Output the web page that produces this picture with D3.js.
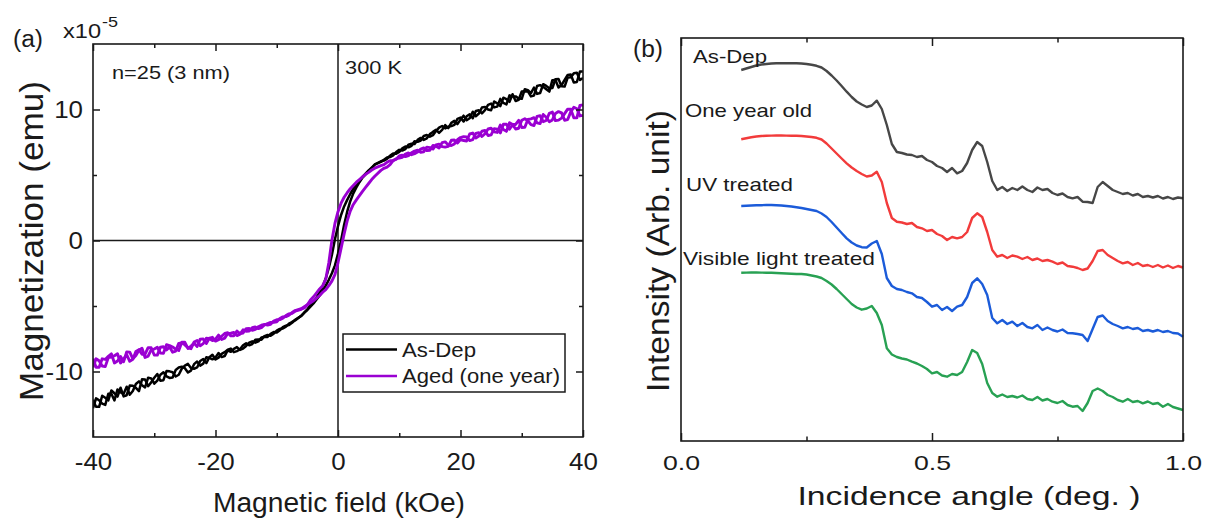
<!DOCTYPE html>
<html><head><meta charset="utf-8">
<script src="https://cdn.jsdelivr.net/npm/d3@7"></script>
<style>body{margin:0;background:#fff}svg{display:block}</style>
</head><body><svg id="c" width="1209" height="522"></svg>
<script>
// ---------- Panel (a) data : magnetization (x1e-5 emu) vs field (kOe) ----------
const fieldGrid = [-40,-39.5,-39,-38.5,-38,-37.5,-37,-36.5,-36,-35.5,-35,-34.5,-34,-33.5,-33,-32.5,-32,-31.5,-31,-30.5,-30,-29.5,-29,-28.5,-28,-27.5,-27,-26.5,-26,-25.5,-25,-24.5,-24,-23.5,-23,-22.5,-22,-21.5,-21,-20.5,-20,-19.5,-19,-18.5,-18,-17.5,-17,-16.5,-16,-15.5,-15,-14.5,-14,-13.5,-13,-12.5,-12,-11.5,-11,-10.5,-10,-9.5,-9,-8.5,-8,-7.5,-7,
 -6,-5.5,-5,-4.5,-4,-3.5,-3,-2.5,-2,-1.5,-1,-0.5,0,0.5,1,1.5,2,2.5,3,3.5,4,4.5,5,5.5,6,
 7,7.5,8,8.5,9,9.5,10,10.5,11,11.5,12,12.5,13,13.5,14,14.5,15,15.5,16,16.5,17,17.5,18,18.5,19,19.5,20,20.5,21,21.5,22,22.5,23,23.5,24,24.5,25,25.5,26,26.5,27,27.5,28,28.5,29,29.5,30,30.5,31,31.5,32,32.5,33,33.5,34,34.5,35,35.5,36,36.5,37,37.5,38,38.5,39,39.5,40];
const asDepUp = [-12.15,-12.7,-12.7,-11.85,-12.0,-12.2,-11.45,-11.66,-11.92,-11.24,-11.9,-11.81,-11.07,-11.09,-11.25,-11.5,-10.6,-10.61,-11.12,-10.83,-10.48,-10.19,-10.7,-10.66,-9.97,-9.99,-10.06,-10.38,-10.25,-9.78,-9.55,-9.42,-9.73,-9.79,-9.69,-9.2,-9.05,-9.36,-8.91,-8.72,-9.08,-8.94,-8.65,-8.52,-8.33,-8.25,-8.52,-8.44,-8.3,-8.0,-7.85,-8.0,-7.9,-7.58,-7.55,-7.58,-7.3,-7.21,-7.27,-7.11,-6.88,-6.75,-6.72,-6.58,-6.35,-6.22,-6.1,
 -5.75,-5.5,-5.3,-5.05,-4.8,-4.5,-4.2,-3.85,-3.45,-3.0,-2.5,-1.9,-1.0,0.0,1.2,2.2,3.0,3.6,4.05,4.45,4.8,5.05,5.3,5.55,5.8,
 6.0,6.17,6.33,6.37,6.5,6.75,6.92,6.87,6.98,7.31,7.38,7.36,7.68,7.83,7.68,7.8,8.12,8.29,8.45,8.22,8.44,8.81,8.58,8.98,9.13,8.88,9.23,9.53,9.18,9.33,9.83,9.49,9.69,10.15,10.2,10.0,9.95,10.61,10.47,10.26,10.9,10.79,10.58,11.17,10.65,10.74,11.37,11.4,11.38,11.0,11.07,11.79,11.86,11.73,11.55,11.37,12.24,12.26,11.68,11.87,12.25,12.64,12.67,12.06,12.1,12.9,12.9];
const asDepDown = [-12.8,-12.05,-12.2,-12.45,-12.55,-11.7,-11.7,-12.21,-11.37,-11.59,-11.7,-11.16,-11.77,-11.49,-10.95,-10.75,-11.05,-11.21,-10.47,-10.53,-10.93,-10.69,-10.25,-10.06,-10.37,-10.49,-10.46,-9.88,-9.7,-9.63,-9.75,-10.07,-9.93,-9.44,-9.24,-9.55,-9.4,-8.91,-8.96,-9.07,-8.93,-8.59,-8.9,-8.82,-8.38,-8.5,-8.27,-8.14,-8.35,-8.25,-8.05,-7.8,-7.7,-7.8,-7.7,-7.4,-7.35,-7.36,-7.12,-6.99,-7.03,-6.85,-6.62,-6.5,-6.45,-6.28,-6.05,
 -5.75,-5.5,-5.25,-4.95,-4.7,-4.35,-3.95,-3.5,-2.9,-2.1,-1.1,0.1,1.1,1.95,2.6,3.1,3.55,3.95,4.3,4.6,4.85,5.1,5.35,5.55,5.8,
 6.05,6.1,6.23,6.47,6.65,6.63,6.77,7.03,7.18,7.11,7.23,7.58,7.53,7.63,7.98,8.05,7.92,8.04,8.35,8.62,8.74,8.56,8.68,8.73,8.83,9.28,9.38,9.08,9.48,9.63,9.33,9.89,9.94,9.7,9.95,10.35,10.45,10.16,10.22,10.81,10.5,10.39,11.08,11.02,11.0,10.84,10.82,11.55,11.48,11.25,11.67,11.19,11.26,11.93,11.8,11.62,11.64,12.31,12.33,11.77,11.75,12.44,12.47,12.76,12.8,12.25,12.4];
const agedUp = [-9.68,-9.03,-9.18,-9.58,-9.63,-8.94,-8.9,-8.8,-8.65,-9.35,-9.05,-8.71,-9.22,-9.07,-8.47,-8.33,-8.68,-8.68,-8.18,-8.19,-8.74,-8.75,-8.15,-8.11,-8.36,-8.12,-8.53,-8.44,-7.85,-7.81,-7.97,-8.19,-8.26,-7.75,-7.64,-8.03,-7.87,-7.46,-7.5,-7.64,-7.53,-7.22,-7.56,-7.45,-7.09,-7.08,-7.02,-7.26,-7.15,-6.82,-6.93,-6.92,-6.66,-6.6,-6.73,-6.65,-6.45,-6.34,-6.25,-6.25,-6.2,-5.95,-5.83,-5.81,-5.7,-5.5,-5.35,
 -5.2,-5.05,-4.9,-4.75,-4.6,-4.4,-4.2,-3.95,-3.75,-3.45,-3.1,-2.6,-1.7,-0.6,0.5,1.5,2.25,2.75,3.1,3.42,3.75,4.05,4.35,4.65,4.9,
 5.35,5.51,5.6,5.79,6.1,6.23,6.3,6.35,6.6,6.68,6.55,6.63,6.75,6.98,7.07,6.86,6.89,7.25,7.2,7.06,7.47,7.53,7.28,7.25,7.37,7.69,7.86,7.93,7.9,7.63,7.7,8.17,8.23,7.94,8.15,8.51,8.57,8.29,8.25,8.81,8.47,8.33,8.99,8.85,8.86,9.17,8.63,8.64,9.24,9.29,9.38,8.98,8.92,9.62,9.41,9.06,9.2,9.7,9.84,9.74,9.18,9.23,9.82,10.17,10.06,9.51,9.55];
const agedDown = [-9.03,-9.68,-9.68,-9.03,-9.08,-8.84,-8.65,-9.35,-9.2,-8.85,-9.25,-8.51,-8.52,-9.02,-8.77,-8.38,-8.23,-8.93,-8.83,-8.34,-8.29,-8.15,-8.6,-8.61,-7.96,-8.02,-8.13,-8.29,-8.4,-7.76,-7.77,-8.24,-8.06,-7.85,-8.09,-7.53,-7.52,-7.86,-7.45,-7.39,-7.68,-7.57,-7.31,-7.1,-7.04,-7.28,-7.27,-6.91,-7.1,-7.06,-6.73,-6.72,-6.86,-6.78,-6.58,-6.47,-6.4,-6.46,-6.4,-6.15,-6.05,-6.04,-5.93,-5.73,-5.6,-5.56,-5.4,
 -5.25,-5.15,-4.9,-4.55,-4.3,-4.0,-3.7,-3.45,-2.95,-1.7,0.0,1.3,2.2,2.85,3.3,3.65,3.95,4.2,4.45,4.65,4.85,5.05,5.2,5.38,5.52,
 5.72,5.79,5.97,6.09,6.1,6.2,6.45,6.51,6.4,6.48,6.7,6.83,6.9,6.74,6.77,7.13,7.09,6.98,7.3,7.36,7.17,7.13,7.18,7.65,7.67,7.44,7.71,7.63,7.6,8.13,8.2,7.82,7.98,8.34,8.4,8.01,8.07,8.54,8.5,8.21,8.87,8.88,8.49,8.85,8.51,8.57,9.18,9.29,9.14,8.84,8.78,9.48,9.52,9.07,9.16,9.71,9.8,9.15,9.19,9.34,9.68,10.03,10.02,9.37,9.36,10.31,10.35];
const fieldTicks = [-40,-20,0,20,40];
const fieldMinorTicks = [-30,-10,10,30];
const momentTicks = [-10,0,10];
const momentMinorTicks = [-5,5];
const legendNames = ["As-Dep","Aged (one year)"];

// ---------- Panel (b) data : reflectivity (arb., offset) vs incidence angle ----------
const angleGrid = [0.12,0.13,0.14,0.15,0.16,0.17,0.18,0.19,0.20,
 0.21,0.22,0.23,0.24,0.25,0.26,0.27,0.28,0.29,0.30,
 0.31,0.32,0.33,0.34,0.35,0.36,0.37,0.38,0.39,0.40,
 0.41,0.42,0.43,0.44,0.45,0.46,0.47,0.48,0.49,0.50,
 0.51,0.52,0.53,0.54,0.55,0.56,0.57,0.58,0.59,0.60,
 0.61,0.62,0.63,0.64,0.65,0.66,0.67,0.68,0.69,0.70,
 0.71,0.72,0.73,0.74,0.75,0.76,0.77,0.78,0.79,0.80,
 0.81,0.82,0.83,0.84,0.85,0.86,0.87,0.88,0.89,0.90,
 0.91,0.92,0.93,0.94,0.95,0.96,0.97,0.98,0.99,1.00];
const asDepXRR = [371,372.5,374,375.5,376.5,377,377.5,377.7,377.7,
 377.8,377.8,377.7,377.5,377,376.2,375.2,373.5,370,365.5,
 360.5,355,349.3,344,339.5,336.5,334,335.5,340.3,332,
 316,297,289,288,286.5,286,284,285,281,279,
 275,273,269,273,267.7,270,278,291,299,295,
 279,260,251,254,250,253,251,254.5,251,249,
 253.5,251,252,248,246,247.5,244,242.7,244,239.3,
 239,238,254,259,255,251,249,247,248,245.5,
 247,244,245,243.5,245,242.5,244,242,243.5,242.7];
const oneYearXRR = [301.7,302.7,303.7,304.5,305,305.2,305.4,305.5,305.5,
 305.4,305.3,305.2,305,304.5,304,303.2,301.5,297.5,292.5,
 287.5,282.5,277.7,273.5,270,267,264.5,265.5,269.3,259,
 238,223,219.3,218.5,217,218,214,212.7,210,211,
 207,205,201,204,202.7,204,209,223,227.7,224,
 209,191,184.3,186,183,185.5,184.3,182,184,181,
 182.5,180,181,179.3,177,178.5,175,174.3,173,171,
 172.5,180,190,191,186,183,180,177.7,179,176,
 178,175,176,174,176,173.5,175.5,173,175,173.5];
const uvXRR = [235,235.2,235.5,235.7,235.8,236,236,235.8,235.5,
 235,234.5,233.8,233,232,231,230,227.5,224,219,
 213.5,208,202.7,198.5,195.5,193.8,193.5,197.5,200,187,
 163,155,152,151,149,147.7,144,143,139,134.3,
 136,131,134,130,134.3,136,144,158,162.7,157,
 146,123,117.7,121,117,119.3,115,118,114,112.7,
 116,111,113.5,111,109.5,111.5,108,107.7,107,106,
 100,112,124,125.5,120,117,115,112.7,114,112,
 113,110,111,109.5,111,109,110,108,107.5,104.3];
const visibleXRR = [168.3,168.4,168.5,168.5,168.4,168.3,168.2,168,167.8,
 167.5,167.3,167,167,166.5,165.5,164.5,163,160,156.5,
 152,147,142,137,133.5,131.3,132.5,135,128,116,
 92.7,86.5,84,82.5,81.5,79.3,77.5,75,72,67.7,
 69,65.5,64.3,67,66,69,79,91,88,77,
 58,48,44.3,46.5,44,45,43.5,45.5,42,41,
 44,40.5,42,39.3,38,40,36,34.3,35,30,
 38,50,52.5,50,46,44,41,39.3,42,39,
 40,37.7,39.5,37,38,34.3,37,34,32.5,31];
const angleTicks = [0,0.5,1.0];
const angleMinorTicks = [0.25,0.75];
const sampleNames = ["As-Dep","One year old","UV treated","Visible light treated"];

// ---------- drawing ----------
const FONT = '"Liberation Sans", Arial, Helvetica, sans-serif';
const INK = '#1a1a1a';
const svg = d3.select('#c');

function txt(g, s, x, y, size, width, anchor, rot){
  const t = g.append('text').text(s).attr('font-family',FONT).attr('font-size',size)
    .attr('fill',INK).attr('text-anchor',anchor||'start');
  if(width) t.attr('textLength',width).attr('lengthAdjust','spacingAndGlyphs');
  if(rot) t.attr('transform',`translate(${x},${y}) rotate(${rot})`);
  else t.attr('x',x).attr('y',y);
  return t;
}
function stretch(sel,k){
  sel.each(function(){const w=this.getComputedTextLength();
    d3.select(this).attr('textLength',w*k).attr('lengthAdjust','spacingAndGlyphs');});
}
function axis(g, gen, pos, vals, size, fmt, fs, pad){
  const a = g.append('g').attr('transform',pos)
    .call(gen.tickValues(vals).tickSize(-size).tickPadding(pad).tickFormat(fmt));
  a.select('.domain').remove();
  a.selectAll('line').attr('stroke',INK).attr('stroke-width',1.5);
  a.selectAll('text').attr('font-size',fs).attr('font-family',FONT).attr('fill',INK);
  return a;
}

// ===== Panel (a) =====
const A = {l:93, r:583, t:44, b:437};
const xA = d3.scaleLinear().domain([-40,40]).range([A.l,A.r]);
const yA = d3.scaleLinear().domain([-15,15]).range([A.b,A.t]);
const ga = svg.append('g');
ga.append('clipPath').attr('id','clipA').append('rect')
  .attr('x',A.l).attr('y',A.t).attr('width',A.r-A.l).attr('height',A.b-A.t);
ga.append('line').attr('x1',xA(0)).attr('x2',xA(0)).attr('y1',A.t).attr('y2',A.b).attr('stroke',INK).attr('stroke-width',1.5);
ga.append('line').attr('x1',A.l).attr('x2',A.r).attr('y1',yA(0)).attr('y2',yA(0)).attr('stroke',INK).attr('stroke-width',1.5);
const lineA = d3.line().x((d,i)=>xA(fieldGrid[i])).y(d=>yA(d));
const curves = ga.append('g').attr('clip-path','url(#clipA)');
const colA = ['#000000','#9a00d2'];
[[asDepDown,0],[asDepUp,0],[agedDown,1],[agedUp,1]].forEach(([arr,c])=>{
  curves.append('path').attr('d',lineA(arr)).attr('fill','none')
    .attr('stroke',colA[c]).attr('stroke-width',c?2.9:2.5).attr('stroke-linejoin','round');
});
ga.append('rect').attr('x',A.l).attr('y',A.t).attr('width',A.r-A.l).attr('height',A.b-A.t)
  .attr('fill','none').attr('stroke',INK).attr('stroke-width',1.6);
const fmtInt = d=>String(d);
stretch(axis(ga, d3.axisBottom(xA), `translate(0,${A.b})`, fieldTicks, 7, fmtInt, 24, 16).selectAll('text'),1.08);
axis(ga, d3.axisBottom(xA), `translate(0,${A.b})`, fieldMinorTicks, 4, ()=>'', 10, 3);
axis(ga, d3.axisTop(xA), `translate(0,${A.t})`, fieldTicks, 7, ()=>'', 10, 3);
axis(ga, d3.axisTop(xA), `translate(0,${A.t})`, fieldMinorTicks, 4, ()=>'', 10, 3);
stretch(axis(ga, d3.axisLeft(yA), `translate(${A.l},0)`, momentTicks, 7, fmtInt, 24, 10).selectAll('text'),1.08);
axis(ga, d3.axisLeft(yA), `translate(${A.l},0)`, momentMinorTicks, 4, ()=>'', 10, 3);
axis(ga, d3.axisRight(yA), `translate(${A.r},0)`, momentTicks, 7, ()=>'', 10, 3);
axis(ga, d3.axisRight(yA), `translate(${A.r},0)`, momentMinorTicks, 4, ()=>'', 10, 3);

txt(ga,'(a)',13,47,23,30);
txt(ga,'x10',63,38,20,38);
txt(ga,'-5',102,27,14,16);
txt(ga,'n=25 (3 nm)',112,79,19,118);
txt(ga,'300 K',345,74,19,57);
txt(ga,'Magnetic field (kOe)',339,512,27,252,'middle');
txt(ga,'Magnetization (emu)',43,241,33,320,'middle',-90);
// legend
const lg = ga.append('g');
lg.append('rect').attr('x',343).attr('y',334).attr('width',222).attr('height',58)
  .attr('fill','#fff').attr('stroke',INK).attr('stroke-width',1.5);
legendNames.forEach((n,i)=>{
  const yy = 349.5 + i*26.5;
  lg.append('line').attr('x1',346).attr('x2',397).attr('y1',yy).attr('y2',yy)
    .attr('stroke',colA[i]).attr('stroke-width',2.6);
  txt(lg,n,402,yy+7,21,i?158:74);
});

// ===== Panel (b) =====
const B = {l:681, r:1183, t:38, b:441};
const xB = d3.scaleLinear().domain([0,1]).range([B.l,B.r]);
const yB = d3.scaleLinear().domain([0,403]).range([B.b,B.t]);
const gb = svg.append('g');
const lineB = d3.line().x((d,i)=>xB(angleGrid[i])).y(d=>yB(d));
const colB = ['#474747','#f23b3b','#1b5bd9','#28a153'];
[asDepXRR,oneYearXRR,uvXRR,visibleXRR].forEach((arr,i)=>{
  gb.append('path').attr('d',lineB(arr)).attr('fill','none')
    .attr('stroke',colB[i]).attr('stroke-width',2.4).attr('stroke-linejoin','round');
});
gb.append('rect').attr('x',B.l).attr('y',B.t).attr('width',B.r-B.l).attr('height',B.b-B.t)
  .attr('fill','none').attr('stroke',INK).attr('stroke-width',1.6);
stretch(axis(gb, d3.axisBottom(xB), `translate(0,${B.b})`, angleTicks, 8, d3.format('.1f'), 21, 14).selectAll('text'),1.27);
axis(gb, d3.axisBottom(xB), `translate(0,${B.b})`, angleMinorTicks, 4.5, ()=>'', 10, 3);
axis(gb, d3.axisTop(xB), `translate(0,${B.t})`, angleTicks, 8, ()=>'', 10, 3);
axis(gb, d3.axisTop(xB), `translate(0,${B.t})`, angleMinorTicks, 4.5, ()=>'', 10, 3);

txt(gb,'(b)',633,57,23,30);
const labelPos = [[693,63,74],[685,117,127],[686,190.5,107],[683,265,192]];
sampleNames.forEach((n,i)=>txt(gb,n,labelPos[i][0],labelPos[i][1],19,labelPos[i][2]));
txt(gb,'Incidence angle (deg. )',969,505,26,343,'middle');
txt(gb,'Intensity (Arb. unit)',669,251,32,282,'middle',-90);
</script></body></html>
